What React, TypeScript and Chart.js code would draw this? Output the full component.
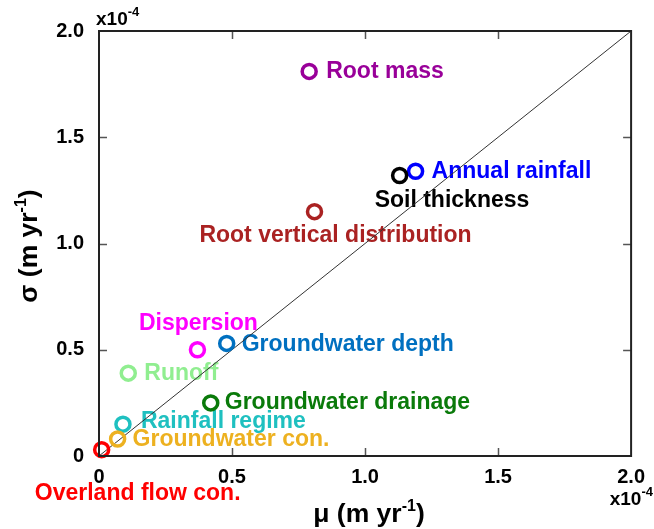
import React, { useEffect, useRef } from "react";
import { Chart, registerables } from "chart.js";

Chart.register(...registerables);

// ---- data ----
const factors = [
  "Root mass",
  "Annual rainfall",
  "Soil thickness",
  "Root vertical distribution",
  "Dispersion",
  "Groundwater depth",
  "Runoff",
  "Groundwater drainage",
  "Rainfall regime",
  "Groundwater con.",
  "Overland flow con.",
];
const muValues = [0.79, 1.19, 1.13, 0.81, 0.37, 0.48, 0.11, 0.42, 0.09, 0.07, 0.01];
const sigmaValues = [1.81, 1.34, 1.32, 1.15, 0.5, 0.53, 0.39, 0.25, 0.15, 0.08, 0.03];
const tickValues = [0, 0.5, 1.0, 1.5, 2.0];
const tickLabels = ["0", "0.5", "1.0", "1.5", "2.0"];
const innerTickValues = [0.5, 1.0, 1.5];
const diagonalValues = [0, 2];
const axisMultiplier = "x10";
const axisExponent = "-4";
const xTitleMain = "μ (m yr";
const yTitleMain = "σ (m yr";
const unitExponent = "-1";

// ---- styles ----
const colors = [
  "#990099",
  "#0000ff",
  "#000000",
  "#aa2222",
  "#ff00ff",
  "#0070c0",
  "#90ee90",
  "#0a7a0a",
  "#1fc0c0",
  "#edb120",
  "#ff0000",
];
const labelPlacement: { dx: number; dy: number; align: CanvasTextAlign }[] = [
  { dx: 17, dy: 0, align: "left" },
  { dx: 16, dy: 0, align: "left" },
  { dx: -25, dy: 25, align: "left" },
  { dx: 21, dy: 24, align: "center" },
  { dx: 1, dy: -26, align: "center" },
  { dx: 15, dy: 1, align: "left" },
  { dx: 16, dy: 1, align: "left" },
  { dx: 14, dy: 0, align: "left" },
  { dx: 18, dy: -2, align: "left" },
  { dx: 15, dy: 1, align: "left" },
  { dx: 36, dy: 44, align: "center" },
];
const FONT = "'Liberation Sans', Arial, Helvetica, sans-serif";

function drawSup(
  ctx: CanvasRenderingContext2D,
  main: string,
  sup: string,
  tail: string,
  x: number,
  y: number,
  mainSize: number,
  supSize: number,
  raise: number,
  align: "left" | "center" | "right"
) {
  ctx.textBaseline = "alphabetic";
  ctx.textAlign = "left";
  ctx.font = `bold ${mainSize}px ${FONT}`;
  const w1 = ctx.measureText(main).width;
  const w3 = ctx.measureText(tail).width;
  ctx.font = `bold ${supSize}px ${FONT}`;
  const w2 = ctx.measureText(sup).width;
  const total = w1 + w2 + w3;
  let sx = x;
  if (align === "center") sx = x - total / 2;
  if (align === "right") sx = x - total;
  ctx.font = `bold ${mainSize}px ${FONT}`;
  ctx.fillText(main, sx, y);
  ctx.font = `bold ${supSize}px ${FONT}`;
  ctx.fillText(sup, sx + w1, y - raise);
  ctx.font = `bold ${mainSize}px ${FONT}`;
  ctx.fillText(tail, sx + w1 + w2, y);
}

const overlayPlugin = {
  id: "overlay",
  beforeDatasetsDraw(chart: any) {
    const ctx: CanvasRenderingContext2D = chart.ctx;
    const xs = chart.scales.x;
    const ys = chart.scales.y;
    ctx.save();
    ctx.font = `bold 23px ${FONT}`;
    ctx.textBaseline = "middle";
    factors.forEach((name, i) => {
      const px = xs.getPixelForValue(muValues[i]);
      const py = ys.getPixelForValue(sigmaValues[i]);
      const p = labelPlacement[i];
      ctx.fillStyle = colors[i];
      ctx.textAlign = p.align;
      ctx.fillText(name, px + p.dx, py + p.dy);
    });
    ctx.restore();
  },
  afterDraw(chart: any) {
    const ctx: CanvasRenderingContext2D = chart.ctx;
    const a = chart.chartArea;
    const xs = chart.scales.x;
    const ys = chart.scales.y;
    ctx.save();
    // ticks (inward, mirrored)
    ctx.strokeStyle = "#555555";
    ctx.lineWidth = 1.5;
    innerTickValues.forEach((v) => {
      const px = Math.round(xs.getPixelForValue(v)) + 0.5;
      const py = Math.round(ys.getPixelForValue(v)) + 0.5;
      ctx.beginPath();
      ctx.moveTo(px, a.bottom);
      ctx.lineTo(px, a.bottom - 8);
      ctx.moveTo(px, a.top);
      ctx.lineTo(px, a.top + 8);
      ctx.moveTo(a.left, py);
      ctx.lineTo(a.left + 8, py);
      ctx.moveTo(a.right, py);
      ctx.lineTo(a.right - 8, py);
      ctx.stroke();
    });
    // frame
    ctx.strokeStyle = "#222222";
    ctx.lineWidth = 2;
    ctx.strokeRect(a.left, a.top, a.right - a.left, a.bottom - a.top);

    ctx.fillStyle = "#000000";
    // multipliers
    drawSup(ctx, axisMultiplier, axisExponent, "", a.left - 3, 25, 19, 13, 9, "left");
    drawSup(ctx, axisMultiplier, axisExponent, "", 653, 505, 19, 13, 9, "right");
    // x title
    drawSup(ctx, xTitleMain, unitExponent, ")", 369, 522, 26.5, 16, 11, "center");
    // y title
    ctx.translate(37, 246);
    ctx.rotate(-Math.PI / 2);
    drawSup(ctx, yTitleMain, unitExponent, ")", 0, 0, 26.5, 16, 11, "center");
    ctx.restore();
  },
};

export default function App() {
  const canvasRef = useRef<HTMLCanvasElement | null>(null);

  useEffect(() => {
    if (!canvasRef.current) return;
    Chart.defaults.font.family = FONT;
    const chart = new Chart(canvasRef.current, {
      type: "scatter",
      data: {
        datasets: [
          {
            label: "factors",
            data: muValues.map((m, i) => ({ x: m, y: sigmaValues[i] })),
            pointRadius: 7,
            pointBorderWidth: 3.5,
            pointBorderColor: colors,
            pointBackgroundColor: "rgba(0,0,0,0)",
            showLine: false,
            clip: false as any,
          },
          {
            label: "1:1",
            data: diagonalValues.map((v) => ({ x: v, y: v })),
            showLine: true,
            borderColor: "#333333",
            borderWidth: 1,
            pointRadius: 0,
            fill: false,
          },
        ],
      },
      options: {
        animation: false,
        responsive: false,
        events: [],
        layout: { padding: { top: 31, right: 22, left: 0, bottom: 0 } },
        plugins: { legend: { display: false }, tooltip: { enabled: false } },
        scales: {
          x: {
            type: "linear",
            min: 0,
            max: 2,
            afterFit: (s: any) => {
              s.height = 73;
            },
            afterBuildTicks: (s: any) => {
              s.ticks = tickValues.map((v) => ({ value: v }));
            },
            grid: { display: false, drawTicks: false, tickLength: 0 },
            border: { display: false },
            ticks: {
              padding: 9,
              maxRotation: 0,
              autoSkip: false,
              color: "#000000",
              font: { size: 20, weight: "bold", family: FONT },
              callback: (v: any) => tickLabels[tickValues.indexOf(Number(v))] ?? "",
            },
          },
          y: {
            type: "linear",
            min: 0,
            max: 2,
            afterFit: (s: any) => {
              s.width = 99;
            },
            afterBuildTicks: (s: any) => {
              s.ticks = tickValues.map((v) => ({ value: v }));
            },
            grid: { display: false, drawTicks: false, tickLength: 0 },
            border: { display: false },
            ticks: {
              padding: 15,
              autoSkip: false,
              color: "#000000",
              font: { size: 20, weight: "bold", family: FONT },
              callback: (v: any) => tickLabels[tickValues.indexOf(Number(v))] ?? "",
            },
          },
        },
      } as any,
      plugins: [overlayPlugin],
    });
    return () => chart.destroy();
  }, []);

  return (
    <div style={{ position: "absolute", left: 0, top: 0, width: 654, height: 529, background: "#ffffff" }}>
      <canvas ref={canvasRef} width={654} height={529} style={{ display: "block" }} />
    </div>
  );
}
